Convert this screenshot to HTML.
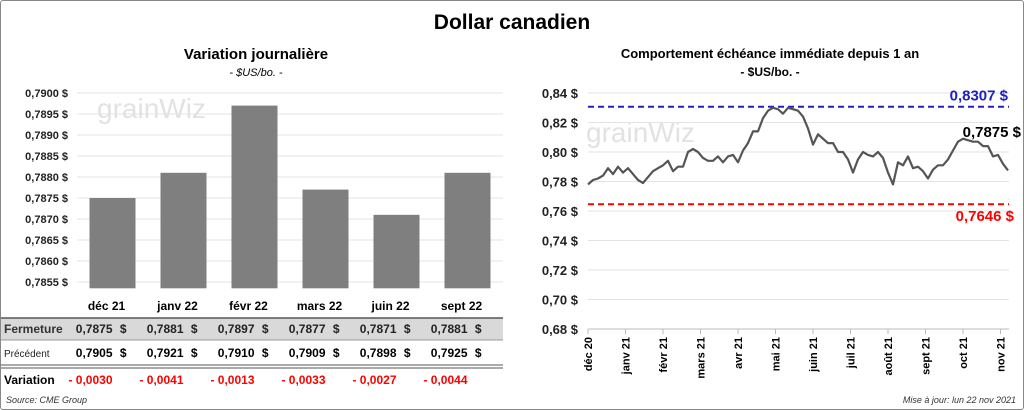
<!DOCTYPE html>
<html><head><meta charset="utf-8">
<style>
body{margin:0;width:1024px;height:410px;background:#fff;font-family:"Liberation Sans",sans-serif;overflow:hidden}
#frame{position:absolute;left:0;top:0;width:1022px;height:408px;border:1px solid #888;border-radius:3px}
svg text{font-family:"Liberation Sans",sans-serif}
</style></head><body>
<div id="frame"></div>
<svg id="svg" width="1024" height="410" style="position:absolute;left:0;top:0">
<text x="512" y="29" text-anchor="middle" font-size="21" font-weight="bold">Dollar canadien</text>
<text x="256" y="59" text-anchor="middle" font-size="15" font-weight="bold">Variation  journalière</text>
<text x="256" y="76" text-anchor="middle" font-size="11" font-style="italic">- $US/bo. -</text>
<text x="770" y="58" text-anchor="middle" font-size="13" font-weight="bold">Comportement échéance immédiate depuis 1 an</text>
<text x="770" y="76" text-anchor="middle" font-size="12" font-weight="bold">- $US/bo. -</text>
<g id="left"></g>
<g id="table"></g>
<g id="right"></g>
<text x="6" y="403" font-size="9" font-style="italic" fill="#333">Source: CME Group</text>
<text x="1016" y="403" text-anchor="end" font-size="9" font-style="italic" fill="#333">Mise à jour: lun 22 nov 2021</text>
</svg>
<script>
const barCats=["déc 21","janv 22","févr 22","mars 22","juin 22","sept 22"];
const closeVals=[0.7875,0.7881,0.7897,0.7877,0.7871,0.7881];
const prevVals=[0.7905,0.7921,0.7910,0.7909,0.7898,0.7925];
const varVals=[-0.0030,-0.0041,-0.0013,-0.0033,-0.0027,-0.0044];
const leftTicks=[0.7900,0.7895,0.7890,0.7885,0.7880,0.7875,0.7870,0.7865,0.7860,0.7855];
const lineVals=[0.778,0.781,0.782,0.784,0.789,0.785,0.790,0.786,0.789,0.785,0.781,0.779,0.783,0.787,0.789,0.791,0.794,0.787,0.790,0.790,0.800,0.802,0.800,0.796,0.794,0.794,0.797,0.793,0.797,0.798,0.793,0.801,0.806,0.814,0.814,0.823,0.828,0.830,0.829,0.826,0.830,0.829,0.828,0.824,0.816,0.805,0.812,0.809,0.806,0.806,0.800,0.800,0.795,0.786,0.795,0.800,0.798,0.797,0.800,0.796,0.786,0.778,0.793,0.791,0.797,0.789,0.790,0.787,0.782,0.788,0.791,0.791,0.795,0.801,0.807,0.809,0.808,0.807,0.807,0.804,0.804,0.797,0.798,0.792,0.7875];
const rightTicks=[0.84,0.82,0.80,0.78,0.76,0.74,0.72,0.70,0.68];
const monthLabels=["déc 20","janv 21","févr 21","mars 21","avr 21","mai 21","juin 21","juil 21","août 21","sept 21","oct 21","nov 21"];
const maxVal=0.8307, minVal=0.7646, lastVal=0.7875;

const NS="http://www.w3.org/2000/svg";
function mk(parent,tag,attrs,txt){const e=document.createElementNS(NS,tag);for(const k in attrs)e.setAttribute(k,attrs[k]);if(txt!==undefined)e.textContent=txt;parent.appendChild(e);return e;}
const fmt=(v,d)=>v.toFixed(d).replace('.',',');

// left bar chart
const L=document.getElementById('left');
const ly=v=>93+(0.7900-v)/0.0005*21;
const lx0=77,band=71;
leftTicks.forEach(t=>{
  const g=mk(L,'line',{x1:lx0,x2:503,y1:ly(t),y2:ly(t),stroke:'#e3e3e3','stroke-width':1});
  
  
  const tx=mk(L,'text',{x:68,y:ly(t)+4,'text-anchor':'end','font-size':11,'font-weight':'bold',fill:'#222'},fmt(t,4)+' $');
  
  
});
const base=ly(0.78535);
mk(L,'text',{x:97,y:118,'font-size':28,fill:'#e2e2e2'},'grainWiz');
closeVals.forEach((v,i)=>{
  const cx=lx0+band*(i+0.5);
  const r=mk(L,'rect',{x:cx-23,y:ly(v),width:46,height:base-ly(v),fill:'#7f7f7f'});
  
  
});

// table
const T=document.getElementById('table');
mk(T,'rect',{x:1,y:318,width:502,height:22,fill:'#d9d9d9'});
[[1,318,'#555',1.5],[1,340,'#999',1],[1,365,'#555',1],[1,368,'#555',1]].forEach(a=>{mk(T,'line',{x1:a[0],x2:503,y1:a[1],y2:a[1],stroke:a[2],'stroke-width':a[3]});});
barCats.forEach((c,i)=>{
  const cx=lx0+band*(i+0.5)-6;
  const t=mk(T,'text',{x:cx,y:310,'text-anchor':'middle','font-size':12,'font-weight':'bold'},c);
  
  
  const a=mk(T,'text',{x:cx+6,y:333,'text-anchor':'end','font-size':12,'font-weight':'bold',fill:'#222'},fmt(closeVals[i],4));
  
  
  mk(T,'text',{x:cx+20,y:333,'text-anchor':'end','font-size':12,'font-weight':'bold',fill:'#222'},'$');
  const b=mk(T,'text',{x:cx+6,y:357,'text-anchor':'end','font-size':12,'font-weight':'bold'},fmt(prevVals[i],4));
  
  
  mk(T,'text',{x:cx+20,y:357,'text-anchor':'end','font-size':12,'font-weight':'bold'},'$');
  const d=mk(T,'text',{x:cx+6,y:384,'text-anchor':'end','font-size':12,'font-weight':'bold',fill:'#f00'},'- '+fmt(Math.abs(varVals[i]),4));
  
  
});
mk(T,'text',{x:4,y:333,'font-size':12,'font-weight':'bold',fill:'#333'},'Fermeture');
mk(T,'text',{x:4,y:357,'font-size':10,fill:'#222'},'Précédent');
mk(T,'text',{x:4,y:384,'font-size':12,'font-weight':'bold'},'Variation');

// right line chart
const R=document.getElementById('right');
const ry=v=>93+(0.84-v)/0.02*29.5;
const rx0=588,rx1=1008;
rightTicks.forEach(t=>{
  const g=mk(R,'line',{x1:rx0,x2:1009,y1:ry(t),y2:ry(t),stroke:'#e3e3e3','stroke-width':1});
  
  
  const tx=mk(R,'text',{x:578,y:ry(t)+5,'text-anchor':'end','font-size':13,'font-weight':'bold',fill:'#222'},fmt(t,2)+' $');
  
  
});
mk(R,'line',{x1:rx0,x2:1009,y1:ry(0.68),y2:ry(0.68),stroke:'#bbb','stroke-width':1});
mk(R,'text',{x:586,y:142,'font-size':28,fill:'#e2e2e2'},'grainWiz');
monthLabels.forEach((m,i)=>{
  const x=rx0+i*37.5;
  mk(R,'line',{x1:x,x2:x,y1:ry(0.68),y2:ry(0.68)+5,stroke:'#bbb'});
  const t=mk(R,'text',{transform:`translate(${x+4},337) rotate(-90)`,'text-anchor':'end','font-size':11,'font-weight':'bold'},m);
  
  
});
const hi=mk(R,'line',{x1:rx0,x2:1009,y1:ry(maxVal),y2:ry(maxVal),stroke:'#2020c0','stroke-width':2,'stroke-dasharray':'6,4'});


const lo=mk(R,'line',{x1:rx0,x2:1009,y1:ry(minVal),y2:ry(minVal),stroke:'#f00','stroke-width':2,'stroke-dasharray':'6,4'});


const step=(rx1-rx0)/(lineVals.length-1);
const pts=lineVals.map((v,i)=>(rx0+i*step).toFixed(1)+','+ry(v).toFixed(1)).join(' ');
const pl=mk(R,'polyline',{points:pts,fill:'none',stroke:'#555','stroke-width':2.2,'stroke-linejoin':'round'});


const t1=mk(R,'text',{x:1008,y:ry(maxVal)-6,'text-anchor':'end','font-size':15,'font-weight':'bold',fill:'#2020c0'},fmt(maxVal,4)+' $');


const t2=mk(R,'text',{x:1014,y:ry(minVal)+17,'text-anchor':'end','font-size':15,'font-weight':'bold',fill:'#f00'},fmt(minVal,4)+'  $');


const t3=mk(R,'text',{x:1021,y:137,'text-anchor':'end','font-size':15,'font-weight':'bold'},fmt(lastVal,4)+' $');


</script>
</body></html>
